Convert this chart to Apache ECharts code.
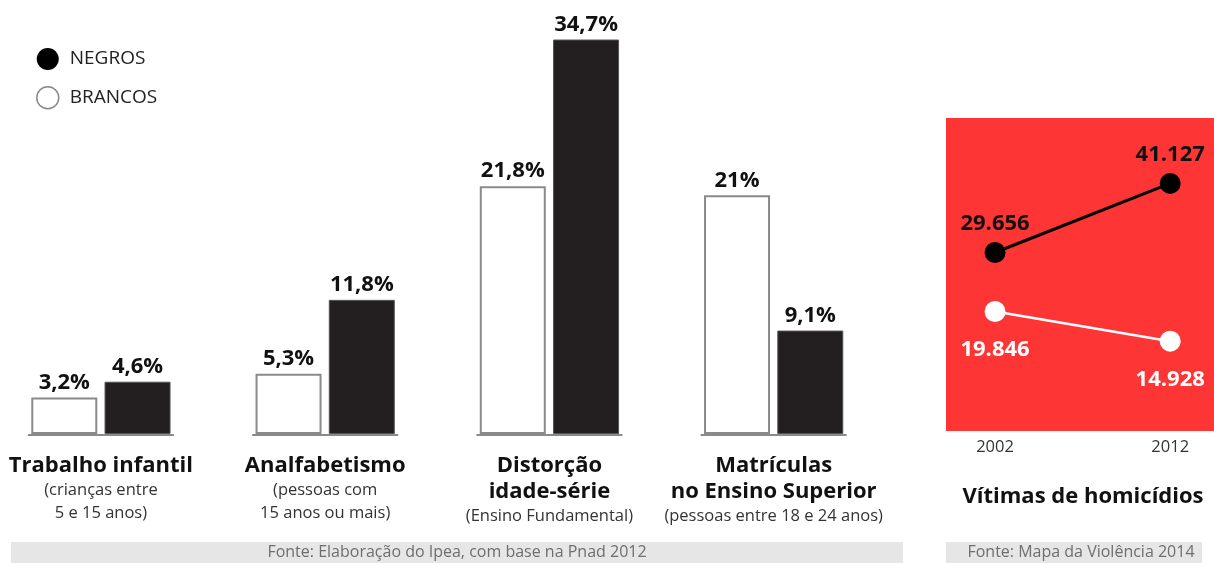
<!DOCTYPE html>
<html>
<head>
<meta charset="utf-8">
<script src="https://cdn.jsdelivr.net/npm/echarts@6/dist/echarts.min.js"></script>
<style>
html,body{margin:0;padding:0;background:#fff;}
#c{width:1214px;height:563px;}
</style>
</head>
<body>
<div id="c"></div>
<script>
// ---- data ----
var categories = ['Trabalho infantil', 'Analfabetismo', 'Distorção\nidade-série', 'Matrículas\nno Ensino Superior'];
var subtitles = ['(crianças entre\n5 e 15 anos)', '(pessoas com\n15 anos ou mais)', '(Ensino Fundamental)', '(pessoas entre 18 e 24 anos)'];
var brancos = [3.2, 5.3, 21.8, 21];
var negros = [4.6, 11.8, 34.7, 9.1];
var years = [2002, 2012];
var homicidiosNegros = [29656, 41127];
var homicidiosBrancos = [19846, 14928];
var legendNames = ['NEGROS', 'BRANCOS'];
var sourceLeft = 'Fonte: Elaboração do Ipea, com base na Pnad 2012';
var sourceRight = 'Fonte: Mapa da Violência 2014';
var lineTitle = 'Vítimas de homicídios';

var FONT = '"Open Sans", "DejaVu Sans", sans-serif';

function pct(v) { return String(v).replace('.', ',') + '%'; }
function thousands(v) { return String(v).replace(/\B(?=(\d{3})+(?!\d))/g, '.'); }

var chart = echarts.init(document.getElementById('c'), null, {renderer: 'canvas'});

var catIndex = categories.map(function (c, i) { return i; });
var catLabels = categories.map(function (c, i) {
  var t = c.split('\n').map(function (s) { return '{t|' + s + '}'; }).join('\n');
  var s = subtitles[i].split('\n').map(function (x) { return '{s|' + x + '}'; }).join('\n');
  return t + '\n' + s;
});

var barLabel = {
  show: true, position: 'top', distance: 4,
  fontSize: 22, fontWeight: 'bold', color: '#111', fontFamily: FONT,
  formatter: function (p) { return pct(p.value[1]); }
};

var option = {
  backgroundColor: '#ffffff',
  animation: false,
  textStyle: {fontFamily: FONT},
  legend: {
    orient: 'vertical',
    left: 36,
    top: 48,
    padding: 0,
    itemWidth: 22,
    itemHeight: 22,
    itemGap: 16,
    icon: 'circle',
    textStyle: {fontSize: 19, color: '#222', fontFamily: FONT, padding: [0, 0, 0, 6]},
    data: [
      {name: legendNames[0], itemStyle: {color: '#000', borderColor: '#000', borderWidth: 0}},
      {name: legendNames[1], itemStyle: {color: '#fff', borderColor: '#888', borderWidth: 1.5}}
    ]
  },
  grid: [
    {left: 0, width: 897, top: 2, height: 432, containLabel: false},
    {left: 946, width: 268, top: 118, height: 313, show: true, backgroundColor: '#fe3535', borderWidth: 0}
  ],
  xAxis: [
    {
      gridIndex: 0,
      type: 'value',
      min: -0.45,
      max: 3.55,
      axisLine: {show: false},
      axisTick: {show: false},
      splitLine: {show: false},
      axisLabel: {
        customValues: catIndex,
        margin: 19,
        formatter: function (v) { return catLabels[Math.round(v)]; },
        rich: {
          t: {fontSize: 22, fontWeight: 'bold', color: '#111', lineHeight: 26, fontFamily: FONT},
          s: {fontSize: 16.5, color: '#333', lineHeight: 23, fontFamily: FONT}
        }
      }
    },
    {
      gridIndex: 1,
      type: 'value',
      min: 1999.2,
      max: 2014.5,
      axisLine: {show: false},
      axisTick: {show: false},
      splitLine: {show: false},
      axisLabel: {
        customValues: years,
        margin: 8,
        fontSize: 16.5,
        color: '#333',
        fontFamily: FONT,
        formatter: function (v) { return String(v); }
      }
    }
  ],
  yAxis: [
    {gridIndex: 0, type: 'value', min: 0, max: 38, show: false},
    {gridIndex: 1, type: 'value', min: 0, max: 52000, show: false}
  ],
  series: [
    {
      type: 'custom',
      xAxisIndex: 0, yAxisIndex: 0,
      silent: true,
      z: 1,
      data: catIndex.map(function (i) { return [i, 0]; }),
      renderItem: function (params, api) {
        var p = api.coord([api.value(0), 0]);
        var half = 73;
        return {
          type: 'line',
          shape: {x1: p[0] - half, y1: p[1] + 1, x2: p[0] + half, y2: p[1] + 1},
          style: {stroke: '#8a8a8a', lineWidth: 2}
        };
      }
    },
    {
      name: legendNames[1],
      type: 'bar',
      xAxisIndex: 0, yAxisIndex: 0,
      data: catIndex.map(function (i) { return [i, brancos[i]]; }),
      barWidth: 66,
      barGap: '11%',
      z: 2,
      itemStyle: {color: '#ffffff', borderColor: '#8a8a8a', borderWidth: 2},
      label: barLabel
    },
    {
      name: legendNames[0],
      type: 'bar',
      xAxisIndex: 0, yAxisIndex: 0,
      data: catIndex.map(function (i) { return [i, negros[i]]; }),
      barWidth: 66,
      barGap: '11%',
      z: 2,
      itemStyle: {color: '#231f20', borderColor: '#555', borderWidth: 1},
      label: barLabel
    },
    {
      name: legendNames[0],
      type: 'line',
      xAxisIndex: 1, yAxisIndex: 1,
      data: years.map(function (y, i) { return [y, homicidiosNegros[i]]; }),
      symbol: 'circle',
      symbolSize: 21,
      lineStyle: {color: '#000', width: 3},
      itemStyle: {color: '#000'},
      label: {
        show: true, position: 'top', distance: 7,
        fontSize: 22, fontWeight: 'bold', color: '#111', fontFamily: FONT,
        formatter: function (p) { return thousands(p.value[1]); }
      },
      z: 5
    },
    {
      name: legendNames[1],
      type: 'line',
      xAxisIndex: 1, yAxisIndex: 1,
      data: years.map(function (y, i) { return [y, homicidiosBrancos[i]]; }),
      symbol: 'circle',
      symbolSize: 21,
      lineStyle: {color: '#fff', width: 2.5},
      itemStyle: {color: '#fff'},
      label: {
        show: true, position: 'bottom', distance: 17,
        fontSize: 22, fontWeight: 'bold', color: '#fff', fontFamily: FONT,
        formatter: function (p) { return thousands(p.value[1]); }
      },
      z: 5
    }
  ],
  graphic: [
    {type: 'rect', shape: {x: 11, y: 542, width: 892, height: 21}, style: {fill: '#e6e6e6'}, silent: true},
    {type: 'text', style: {text: sourceLeft, x: 457, y: 552, align: 'center', verticalAlign: 'middle', fontSize: 16, fill: '#6e6e6e', fontFamily: FONT}, silent: true},
    {type: 'rect', shape: {x: 946, y: 542, width: 256, height: 21}, style: {fill: '#e6e6e6'}, silent: true},
    {type: 'text', style: {text: sourceRight, x: 1081, y: 552, align: 'center', verticalAlign: 'middle', fontSize: 16, fill: '#6e6e6e', fontFamily: FONT}, silent: true},
    {type: 'text', style: {text: lineTitle, x: 1083, y: 497, align: 'center', verticalAlign: 'middle', fontSize: 22, fontWeight: 'bold', fill: '#111', fontFamily: FONT}, silent: true}
  ]
};
chart.setOption(option);
</script>
</body>
</html>
